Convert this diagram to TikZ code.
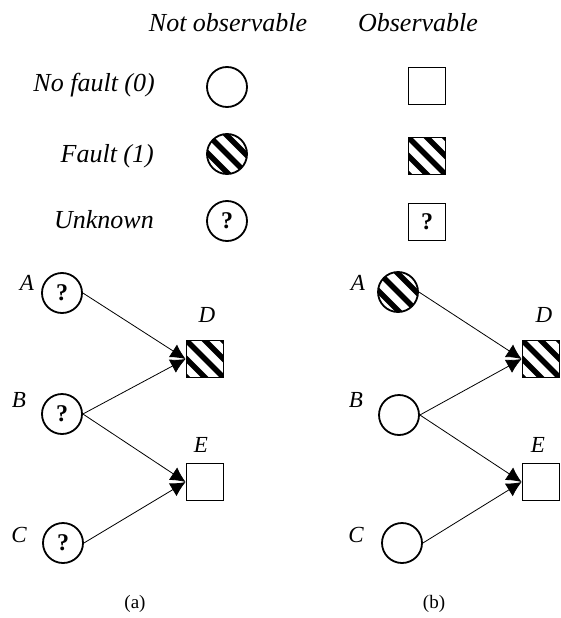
\documentclass[tikz,border=0pt]{standalone}
\usepackage{fontspec}
\setmainfont{Liberation Serif}
\usetikzlibrary{arrows.meta}

\tikzset{
  state/.style={circle,draw,line width=1.8pt,minimum size=40pt,inner sep=0pt,
    font=\fontsize{24}{28}\selectfont\bfseries},
  obs/.style={rectangle,draw,line width=1.8pt,minimum size=37pt,inner sep=0pt,
    font=\fontsize{24}{28}\selectfont\bfseries},
  % thick diagonal stripes clipped to the node's outline
  faulty/.style={path picture={
    \begin{scope}[shift={(path picture bounding box.center)}]
      \foreach \k in {-4,...,4}
        \draw[line width=5.5pt] ({\k*18.4-45},-45) -- ({\k*18.4+45},45);
    \end{scope}}},
  legendtext/.style={font=\fontsize{26}{30}\selectfont\itshape,inner sep=0pt},
  namelabel/.style={font=\fontsize{23}{28}\selectfont\itshape,inner sep=0pt,anchor=base},
  captiontext/.style={font=\fontsize{19}{24}\selectfont,inner sep=0pt,anchor=base},
  link/.style={line width=0.8pt,-{Latex[length=15pt,width=15pt]}}
}

\begin{document}
\begin{tikzpicture}[x=1pt,y=-1pt]
\useasboundingbox (0,0) rectangle (561,618);

% legend
\node[legendtext,anchor=base] (hnot) at (228,32) {Not observable};
\node[legendtext,anchor=base] (hobs) at (418,32) {Observable};
\node[legendtext,anchor=base east] (l0) at (155,92) {No fault (0)};
\node[legendtext,anchor=base east] (l1) at (154,162) {Fault (1)};
\node[legendtext,anchor=base east] (l2) at (154,228) {Unknown};

\node[state] (c0) at (227,87) {};
\node[state,faulty] (c1) at (227,154) {};
\node[state] (c2) at (227,221) {?};
\node[obs] (s0) at (427,86) {};
\node[obs,faulty] (s1) at (427,156) {};
\node[obs] (s2) at (427,222) {?};

% network (a)
\node[state] (aA) at (62,293) {?};
\node[state] (aB) at (62,414) {?};
\node[state] (aC) at (63,543) {?};
\node[obs,faulty] (aD) at (205,359) {};
\node[obs] (aE) at (205,482) {};
\node[namelabel] (laA) at (27,290) {A};
\node[namelabel] (laB) at (19,407) {B};
\node[namelabel] (laC) at (19,542) {C};
\node[namelabel] (laD) at (207,322) {D};
\node[namelabel] (laE) at (201,452) {E};
\draw[link] (aA.east) -- (aD.west);
\draw[link] (aB.east) -- (aD.west);
\draw[link] (aB.east) -- (aE.west);
\draw[link] (aC.east) -- (aE.west);
\node[captiontext] (capa) at (135,608) {(a)};

% network (b)
\node[state,faulty] (bA) at (398,292) {};
\node[state] (bB) at (399,415) {};
\node[state] (bC) at (402,543) {};
\node[obs,faulty] (bD) at (541,359) {};
\node[obs] (bE) at (541,482) {};
\node[namelabel] (lbA) at (358,290) {A};
\node[namelabel] (lbB) at (356,407) {B};
\node[namelabel] (lbC) at (356,542) {C};
\node[namelabel] (lbD) at (544,322) {D};
\node[namelabel] (lbE) at (538,452) {E};
\draw[link] (bA.east) -- (bD.west);
\draw[link] (bB.east) -- (bD.west);
\draw[link] (bB.east) -- (bE.west);
\draw[link] (bC.east) -- (bE.west);
\node[captiontext] (capb) at (434,608) {(b)};
\end{tikzpicture}
\end{document}
